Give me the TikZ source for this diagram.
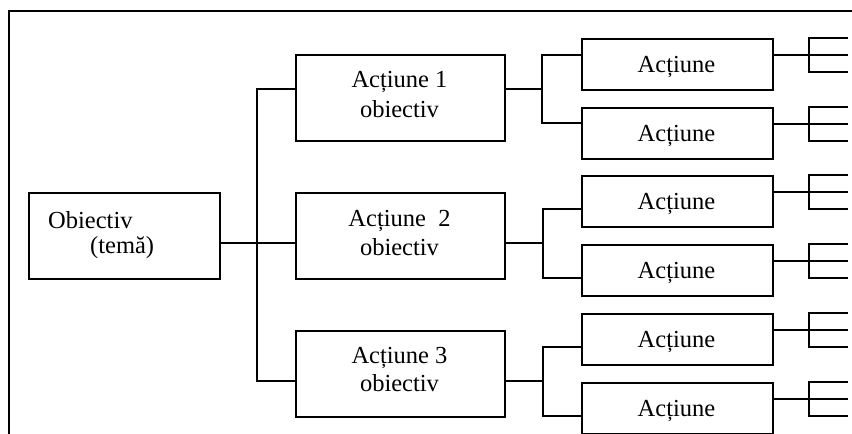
\documentclass[tikz,border=0pt]{standalone}
\usepackage{fontspec}
\setmainfont{Liberation Serif}
\begin{document}
\begin{tikzpicture}[x=1pt,y=-1pt,
  ln/.style={line width=1.6pt},
  bigbox/.style={draw,line width=1.6pt,inner sep=0pt,anchor=north west,minimum width=209pt,minimum height=86pt},
  smallbox/.style={draw,line width=1.6pt,inner sep=0pt,anchor=north west,minimum width=191pt,minimum height=51pt},
  rootbox/.style={draw,line width=1.6pt,inner sep=0pt,anchor=north west,minimum width=191pt,minimum height=86pt},
  txt/.style={inner sep=0pt,font=\fontsize{24.5}{30}\selectfont}]
\useasboundingbox (0,0) rectangle (852,434);
% frame
\coordinate (fb) at (9,434);
\coordinate (fc) at (9,11);
\coordinate (fr) at (852,11);
\draw[line width=1.8pt] (fb) -- (fc) -- (fr);
% root
\node[rootbox] (ob) at (28,192) {};
\node[txt,anchor=base west] (obt1) at (48,228) {Obiectiv};
\node[txt,anchor=base west] (obt2) at (90,253) {(temă)};
% level 1 boxes
\node[bigbox] (a1) at (295,54) {};
\node[bigbox] (a2) at (295,192) {};
\node[bigbox] (a3) at (295,330) {};
\node[txt,anchor=base] (a1t1) at (399.5,87) {Acțiune 1};
\node[txt,anchor=base] (a1t2) at (399.5,117) {obiectiv};
\node[txt,anchor=base] (a2t1) at (399.5,226) {Acțiune\ \ 2};
\node[txt,anchor=base] (a2t2) at (399.5,255) {obiectiv};
\node[txt,anchor=base] (a3t1) at (399.5,363) {Acțiune 3};
\node[txt,anchor=base] (a3t2) at (399.5,391) {obiectiv};
% level 1 connectors
\coordinate (j0) at (257,243);
\coordinate (j1) at (257,89);
\coordinate (j3) at (257,381);
\draw[ln] (ob.east |- j0) -- (a2.west |- j0);
\draw[ln] (a1.west |- j1) -- (j1) -- (j3) -- (a3.west |- j3);
% level 2 boxes
\foreach \i/\t in {1/38,2/107,3/175,4/244,5/313,6/382}{
  \node[smallbox] (s\i) at (581,\t) {};
  \node[txt,anchor=base] (s\i t) at (676.5,\t+34) {Acțiune};
  % rake
  \coordinate (rt\i) at (809,\t);
  \coordinate (rm\i) at (809,\t+17);
  \coordinate (rb\i) at (809,\t+34);
  \coordinate (et\i) at (848,\t);
  \coordinate (em\i) at (848,\t+17);
  \coordinate (eb\i) at (848,\t+34);
  \draw[ln] (s\i.east |- rm\i) -- (em\i);
  \draw[ln] (et\i) -- (rt\i) -- (rb\i) -- (eb\i);
}
% level 2 connectors
\coordinate (k1) at (542,89);
\coordinate (k1a) at (542,55);
\coordinate (k1b) at (542,123);
\draw[ln] (a1.east |- k1) -- (k1);
\draw[ln] (s1.west |- k1a) -- (k1a) -- (k1b) -- (s2.west |- k1b);
\coordinate (k2) at (543,243);
\coordinate (k2a) at (543,209);
\coordinate (k2b) at (543,278);
\draw[ln] (a2.east |- k2) -- (k2);
\draw[ln] (s3.west |- k2a) -- (k2a) -- (k2b) -- (s4.west |- k2b);
\coordinate (k3) at (543,381);
\coordinate (k3a) at (543,347);
\coordinate (k3b) at (543,416);
\draw[ln] (a3.east |- k3) -- (k3);
\draw[ln] (s5.west |- k3a) -- (k3a) -- (k3b) -- (s6.west |- k3b);
\end{tikzpicture}
\end{document}
